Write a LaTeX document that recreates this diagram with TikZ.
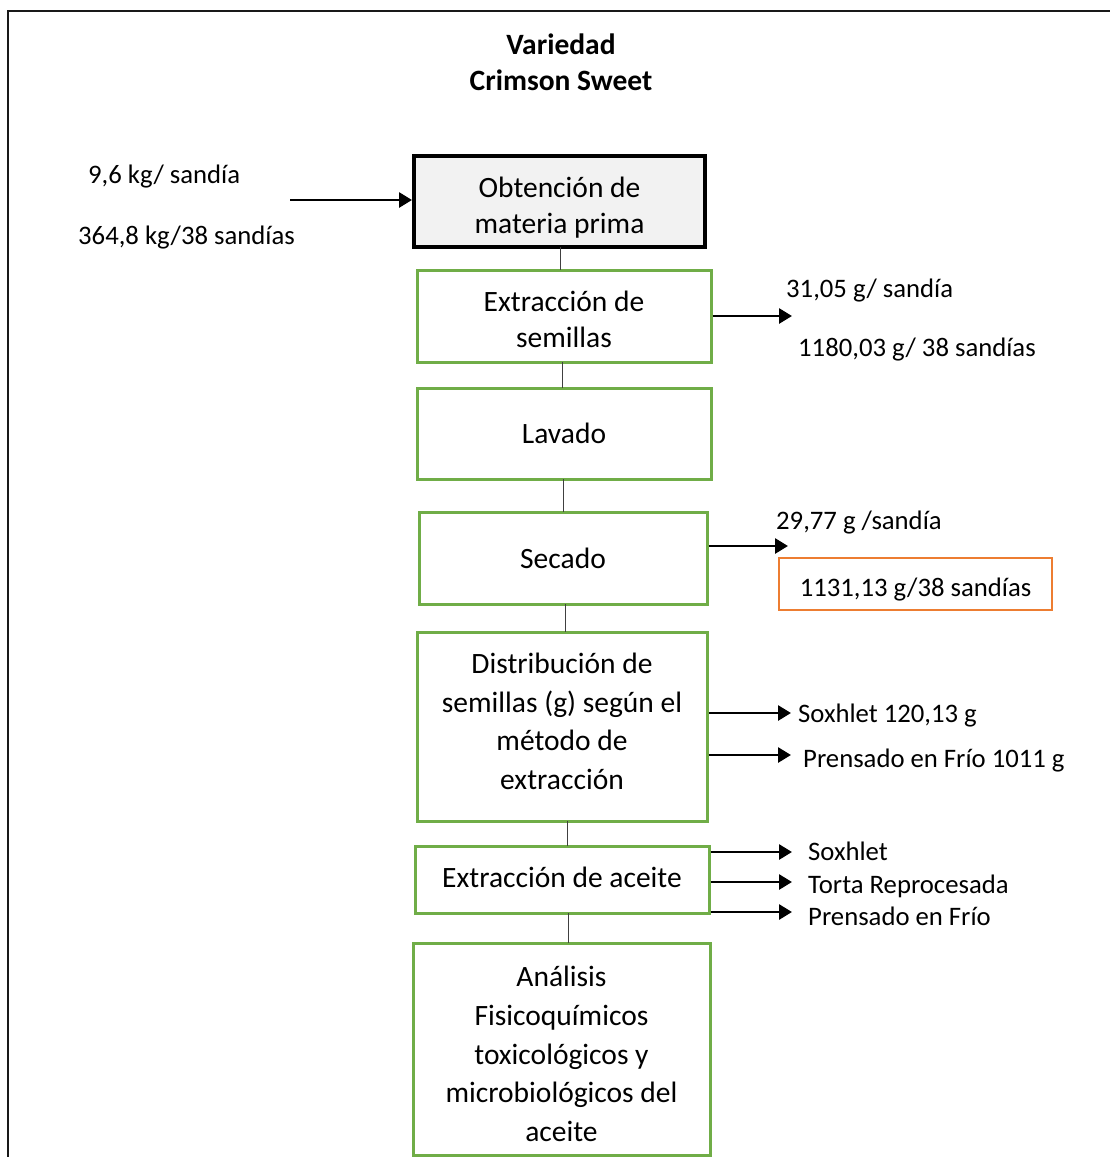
\documentclass[tikz,border=0pt]{standalone}
\usepackage{fontspec}
\setmainfont{Carlito}
\usetikzlibrary{arrows.meta}
\definecolor{grn}{HTML}{70AD47}
\definecolor{org}{HTML}{ED7D31}
\definecolor{lgray}{HTML}{F2F2F2}
\begin{document}
\begin{tikzpicture}[x=1pt,y=-1pt,
  every node/.style={font=\fontsize{29.5}{38.7}\selectfont},
  gbox/.style={draw=grn, line width=3pt, inner sep=0pt},
  txt/.style={align=center, inner sep=0pt},
  lbl/.style={anchor=west, inner sep=0pt, text height=0.65em, text depth=0.2em, font=\fontsize{26.7}{32}\selectfont},
  link/.style={draw=black!75, line width=1pt},
  flow/.style={line width=2.8pt, -{Triangle[length=13pt,width=15pt]}}
]
\useasboundingbox (0,0) rectangle (1109,1157);
% outer frame
\draw[line width=1.6pt, black!90] (8,1160) -- (8,11) -- (1112,11);
% title
\node[font=\fontsize{29.5}{36}\selectfont\bfseries, align=center] (title) at (561,62) {Variedad\\Crimson Sweet};
% boxes
\node[draw=black, line width=4pt, fill=lgray, minimum width=291pt, minimum height=91pt, inner sep=0pt] (b1) at (559.5,201.5) {};
\node[gbox, minimum width=294pt, minimum height=92pt] (b2) at (564,316) {};
\node[gbox, minimum width=294pt, minimum height=91pt] (b3) at (564,433.5) {};
\node[gbox, minimum width=288pt, minimum height=92pt] (b4) at (563,558) {};
\node[gbox, minimum width=290pt, minimum height=189pt] (b5) at (562,726.5) {};
\node[gbox, minimum width=294pt, minimum height=67pt] (b6) at (562,879.5) {};
\node[gbox, minimum width=297pt, minimum height=212pt] (b7) at (561.5,1049) {};
% box texts
\node[txt, font=\fontsize{29.5}{36}\selectfont] (t1) at ([yshift=-6pt]b1.center) {Obtención de\\materia prima};
\node[txt, font=\fontsize{29.5}{36}\selectfont] (t2) at ([yshift=-3pt]b2.center) {Extracción de\\semillas};
\node[txt] (t3) at (b3.center) {Lavado};
\node[txt] (t4) at (b4.center) {Secado};
\node[txt] (t5) at ([yshift=5pt]b5.center) {Distribución de\\semillas (g) según el\\método de\\extracción};
\node[txt] (t6) at ([yshift=2pt]b6.center) {Extracción de aceite};
\node[txt] (t7) at ([yshift=-5pt]b7.center) {Análisis\\Fisicoquímicos\\toxicológicos y\\microbiológicos del\\aceite};
% orange box
\node[draw=org, line width=2pt, minimum width=273pt, minimum height=52pt, inner sep=0pt] (ob) at (915.5,584) {};
\node[lbl, anchor=center] (obt) at ([yshift=-10pt]ob.center) {1131,13 g/38 sandías};
% connectors between boxes
\draw[link] (560,247) -- (560,270);
\draw[link] (562,362) -- (562,388);
\draw[link] (563,479) -- (563,512);
\draw[link] (565,604) -- (565,632);
\draw[link] (567,821) -- (567,846);
\draw[link] (568,913) -- (568,943);
% input
\node[lbl] (in1) at (88,181) {9,6 kg/ sandía};
\node[lbl] (in2) at (78,242) {364,8 kg/38 sandías};
\coordinate (inS) at (290,200);
\draw[flow] (inS) -- (b1.west |- inS);
% extraction output
\node[lbl] (o1) at (786,295) {31,05 g/ sandía};
\node[lbl] (o2) at (798,354) {1180,03 g/ 38 sandías};
\coordinate (e2) at (792,316);
\draw[flow] (b2.east |- e2) -- (e2);
% secado output
\node[lbl] (o3) at (776,527) {29,77 g /sandía};
\coordinate (e4) at (788,546);
\draw[flow] (b4.east |- e4) -- (e4);
% distribution outputs
\node[lbl] (o4) at (798,720) {Soxhlet 120,13 g};
\node[lbl] (o5) at (803,765) {Prensado en Frío 1011 g};
\coordinate (e5a) at (791,713);
\coordinate (e5b) at (791,755);
\draw[flow] (b5.east |- e5a) -- (e5a);
\draw[flow] (b5.east |- e5b) -- (e5b);
% extraction of oil outputs
\node[lbl] (o6) at (808,858) {Soxhlet};
\node[lbl] (o7) at (808,891) {Torta Reprocesada};
\node[lbl] (o8) at (808,923) {Prensado en Frío};
\coordinate (e6a) at (792,852);
\coordinate (e6b) at (792,882);
\coordinate (e6c) at (792,912);
\draw[flow] (b6.east |- e6a) -- (e6a);
\draw[flow] (b6.east |- e6b) -- (e6b);
\draw[flow] (b6.east |- e6c) -- (e6c);
\end{tikzpicture}
\end{document}
